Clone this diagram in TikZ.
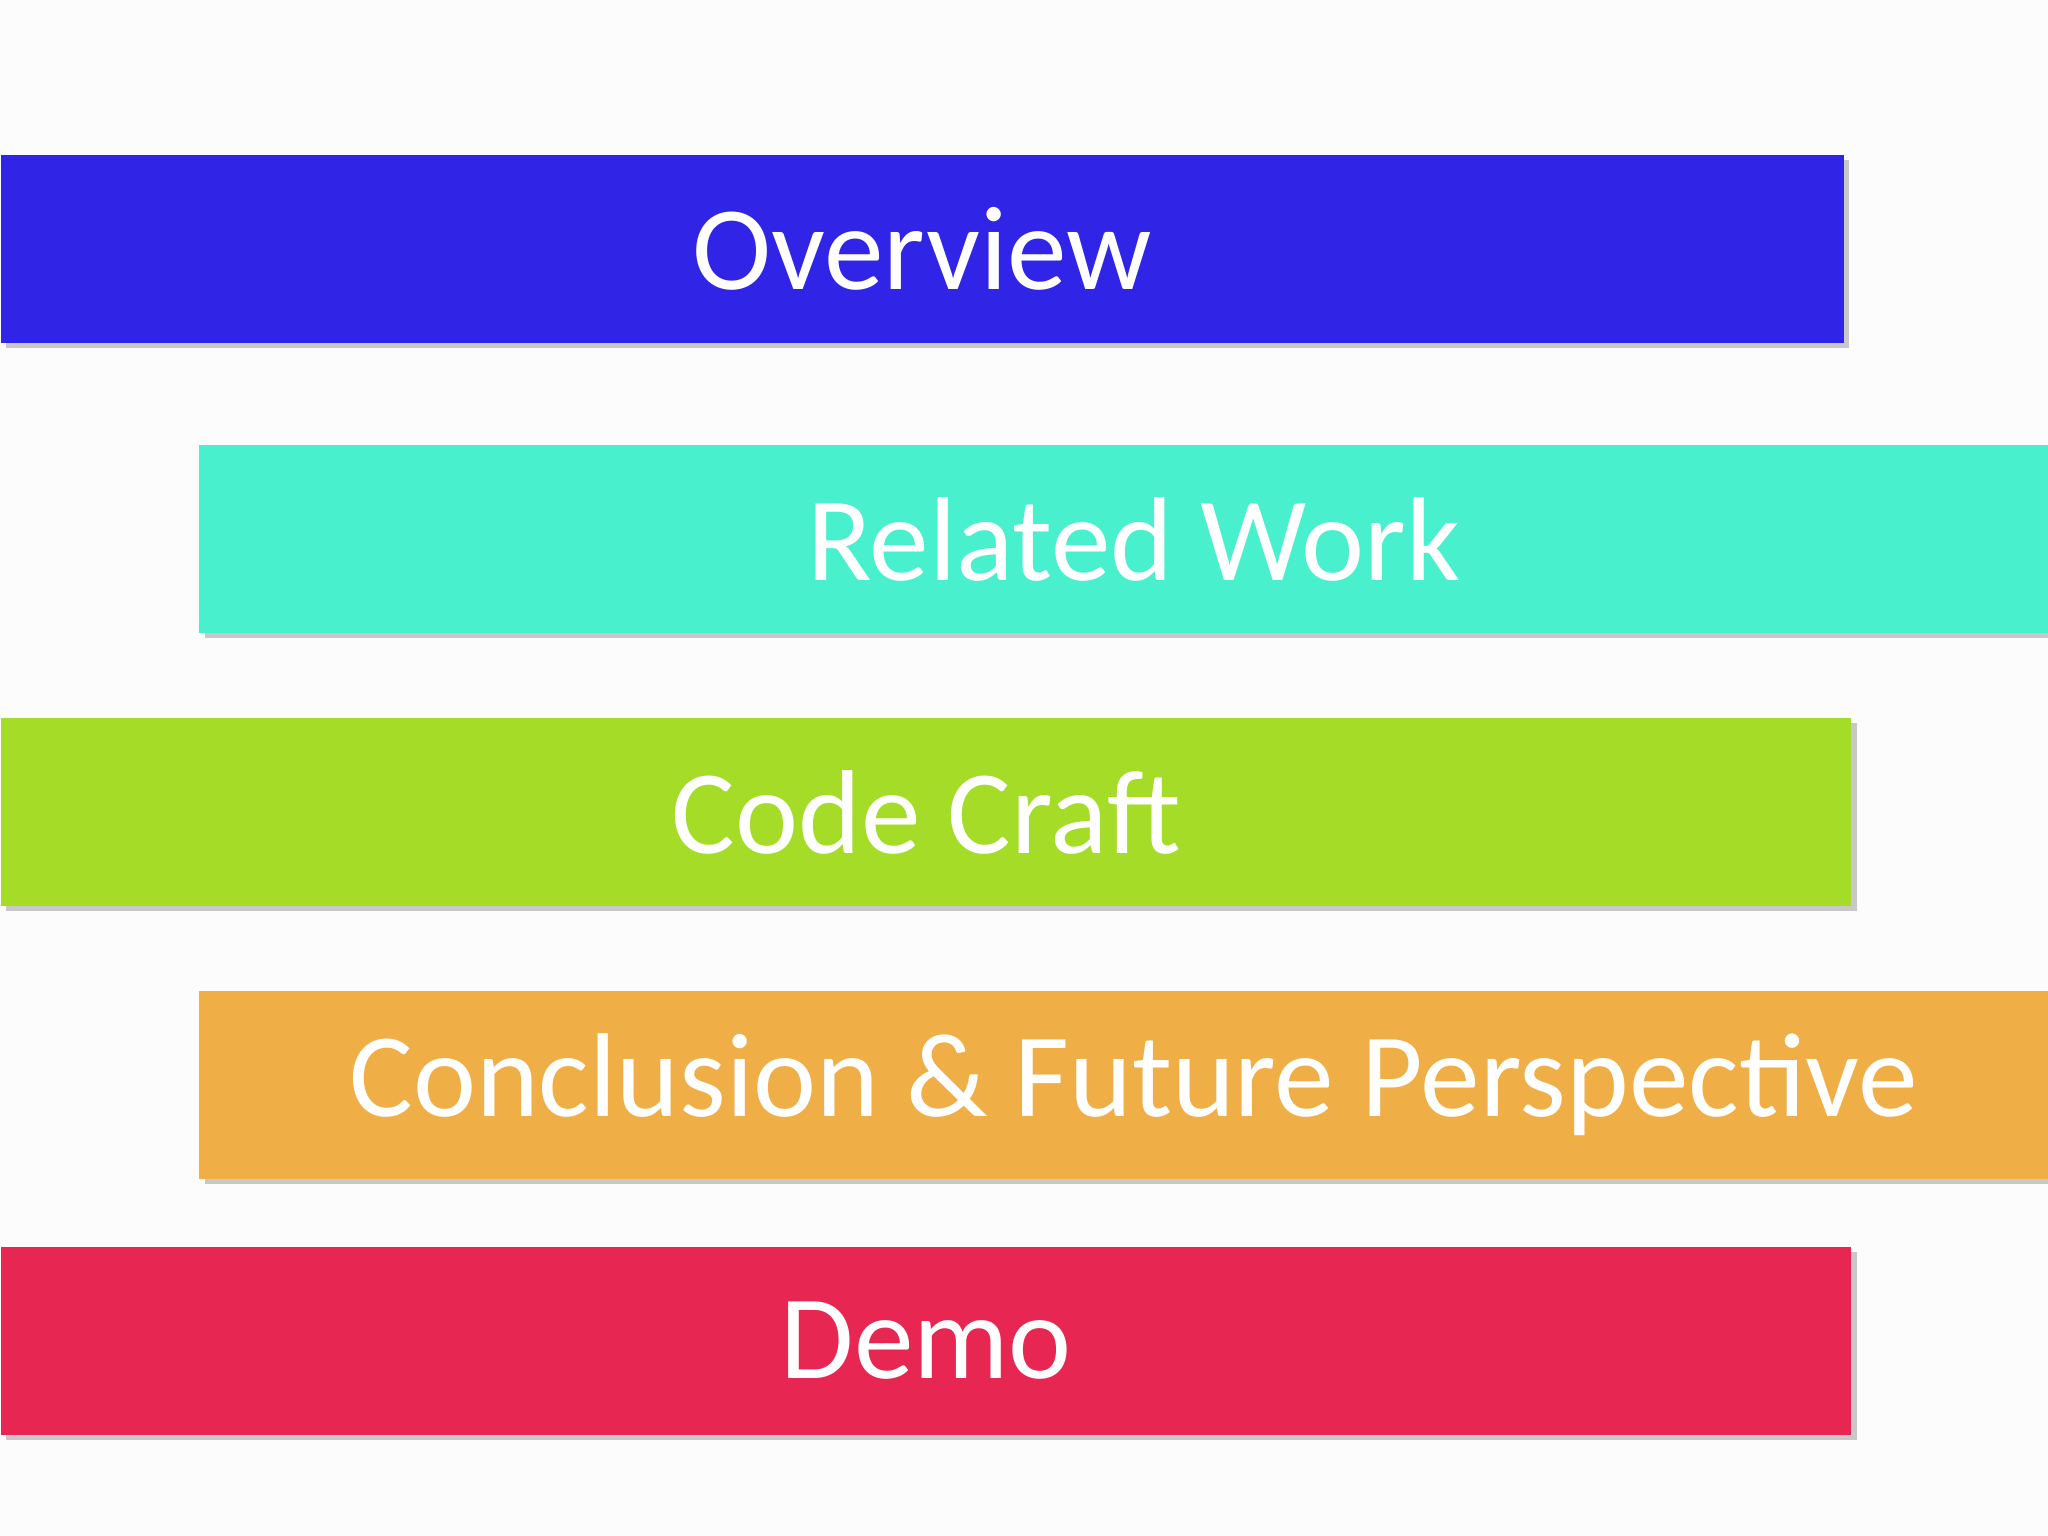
\documentclass[tikz,border=0pt]{standalone}
\usepackage{fontspec}
\setmainfont{Carlito}
\usetikzlibrary{shadows}
\definecolor{bgcolor}{RGB}{252, 252, 252}
\definecolor{overviewcolor}{RGB}{48, 36, 230}
\definecolor{relatedcolor}{RGB}{73, 240, 206}
\definecolor{craftcolor}{RGB}{164, 220, 40}
\definecolor{conclcolor}{RGB}{240, 174, 70}
\definecolor{democolor}{RGB}{232, 38, 82}
\begin{document}
\begin{tikzpicture}[x=0.01cm, y=-0.01cm,
        bar/.style={anchor=north west, inner sep=0pt, minimum height=1.44cm,
            text=white, font=\fontsize{26}{30}\selectfont,
            drop shadow={shadow xshift=0.04cm, shadow yshift=-0.04cm, fill=black!35, opacity=0.6}}
    ]
    \fill[bgcolor] (0, 0) rectangle (1568, 1176);
    \useasboundingbox (0, 0) rectangle (1568, 1176);
    \node[bar, fill=overviewcolor, minimum width=14.10cm] (overview) at (0, 118) {Overview};
    \node[bar, fill=relatedcolor, minimum width=14.30cm] (related) at (152, 340) {Related Work};
    \node[bar, fill=craftcolor, minimum width=14.16cm] (craft) at (0, 549) {Code Craft};
    \node[bar, fill=conclcolor, minimum width=14.30cm] (concl) at (152, 758) {Conclusion \& Future Perspective};
    \node[bar, fill=democolor, minimum width=14.16cm] (demo) at (0, 954) {Demo};
\end{tikzpicture}
\end{document}
